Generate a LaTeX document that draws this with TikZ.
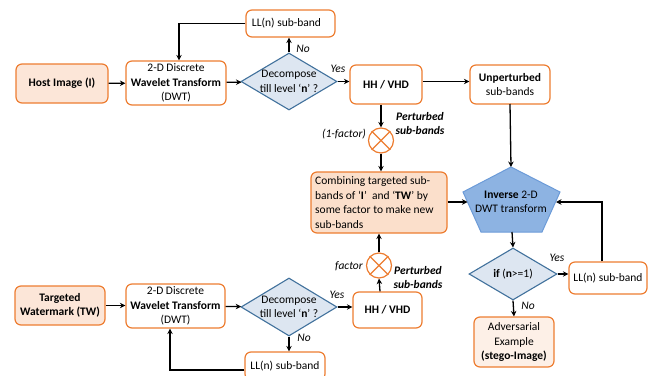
\documentclass[tikz,border=0pt]{standalone}
\usepackage{fontspec}
\setmainfont{Carlito}
\usetikzlibrary{shapes.geometric,arrows.meta}

\definecolor{edgeorange}{HTML}{ED7D31}
\definecolor{peach}{HTML}{FCE6D8}
\definecolor{peachlight}{HTML}{FDF0E7}
\definecolor{peachdeep}{HTML}{FBDFCB}
\definecolor{decfill}{HTML}{DDE6F1}
\definecolor{decedge}{HTML}{41719C}
\definecolor{invfill}{HTML}{8DB3E2}
\definecolor{invedge}{HTML}{6C9BD8}

\begin{document}
\begin{tikzpicture}[x=1pt,y=-1pt,
  every node/.style={font=\fontsize{11.5}{14.5}\selectfont, inner sep=0pt, align=center},
  obox/.style={draw=edgeorange, line width=1.2pt, rounded corners=6pt, fill=white},
  decision/.style={shape=diamond, draw=decedge, line width=1.1pt, fill=decfill},
  mult/.style={circle, draw=edgeorange, line width=1.2pt, fill=white, minimum size=25pt},
  flow/.style={line width=1.3pt, -{Stealth[length=5.5pt,width=5.5pt]}},
  lbl/.style={font=\fontsize{11.5}{14.5}\selectfont\itshape},
  blbl/.style={font=\fontsize{11.5}{14.5}\selectfont\bfseries\itshape, align=center}
]
\useasboundingbox (0,0) rectangle (664,375);

% ---------- host image branch ----------
\node[obox, fill=peach, minimum width=92pt, minimum height=39pt] (host) at (62,83.5) {\textbf{Host Image (I)}};
\node[obox, minimum width=100pt, minimum height=44pt] (dwt1) at (176,83) {2-D Discrete\\\textbf{Wavelet Transform}\\(DWT)};
\node[decision, minimum width=96pt, minimum height=57pt] (dia1) at (289,81.5) {};
\node (dia1t) at (289,81.5) {Decompose\\till level `\textbf{n}' ?};
\node[obox, minimum width=89pt, minimum height=27pt] (ll1) at (290.5,23.5) {\hspace*{-8pt}LL(n) sub-band};
\node[obox, minimum width=72pt, minimum height=39pt] (hh1) at (386,84.5) {\textbf{HH / VHD}};
\node[obox, minimum width=80pt, minimum height=39pt] (un) at (510,84.5) {\textbf{Unperturbed}\\sub-bands};
\node[mult] (c1) at (381,140.5) {};
\draw[edgeorange, line width=1.2pt] (c1.north east) -- (c1.south west) (c1.north west) -- (c1.south east);

% ---------- combination ----------
\node[obox, fill=peachdeep, minimum width=136pt, minimum height=61pt] (comb) at (379,202.5) {};
\node[anchor=west, align=left] (combt) at (315,202.5) {Combining targeted sub-\\bands of `\textbf{I}'~ and `\textbf{TW}' by\\some factor to make new\\sub-bands};

% ---------- inverse transform (pentagon) ----------
\coordinate (pa) at (511,167);
\coordinate (pl) at (463,192);
\coordinate (pbl) at (481,232);
\coordinate (pbr) at (542,232);
\coordinate (pre) at (560,192);
\coordinate (pb) at (512,232);
\coordinate (pin) at (467.5,202);
\coordinate (pout) at (556,202);
\draw[draw=invedge, line width=1pt, fill=invfill] (pa) -- (pre) -- (pbr) -- (pbl) -- (pl) -- cycle;
\node (inv) at (511,202) {\textbf{Inverse} 2-D\\DWT transform};

\node[decision, minimum width=88pt, minimum height=52pt] (cond) at (513,274) {};
\node (condt) at (513,274) {\textbf{if} (\textbf{n}>=1)};
\node[obox, minimum width=78pt, minimum height=32pt] (llr) at (608,278) {LL(n) sub-band};
\node[obox, fill=peachlight, minimum width=80pt, minimum height=50pt] (adv) at (514,342) {Adversarial\\Example\\\textbf{(stego-Image)}};

% ---------- watermark branch ----------
\node[obox, fill=peach, minimum width=90pt, minimum height=39pt] (tw) at (60,305.5) {\textbf{Targeted}\\\textbf{Watermark (TW)}};
\node[obox, minimum width=99pt, minimum height=44pt] (dwt2) at (175.5,306) {2-D Discrete\\\textbf{Wavelet Transform}\\(DWT)};
\node[decision, minimum width=96pt, minimum height=58pt] (dia2) at (289,307) {};
\node (dia2t) at (289,307) {Decompose\\till level `\textbf{n}' ?};
\node[obox, minimum width=80pt, minimum height=28pt] (ll2) at (285,366) {LL(n) sub-band};
\node[obox, minimum width=69pt, minimum height=36pt] (hh2) at (387.5,310) {\textbf{HH / VHD}};
\node[mult] (c2) at (379,265.5) {};
\draw[edgeorange, line width=1.2pt] (c2.north east) -- (c2.south west) (c2.north west) -- (c2.south east);

% ---------- connectors ----------
\draw[flow] (host) -- (dwt1);
\draw[flow] (dwt1) -- (dia1);
\draw[flow] (dia1.north) -- (dia1.north |- ll1.south);
\draw[flow] (ll1.west) -| ([xshift=3pt]dwt1.north);
\draw[flow] (dia1.east) -- (dia1.east -| hh1.west);
\draw[flow] (hh1.east |- dia1.east) -- (un.west |- dia1.east);
\draw[flow] (c1.north |- hh1.south) -- (c1.north);
\draw[flow] (c1.south) -- (c1.south |- comb.north);
\draw[flow] (un.south |- pa) ++(0,-63) -- (pa);
\draw[flow] (comb.east |- pin) -- (pin);
\draw[flow] (pb) -- (cond.north);
\draw[flow] (cond.east) -- (cond.east -| llr.west);
\draw[flow] ([xshift=-6pt]llr.north) |- (pout);
\draw[flow] (cond.south) -- (adv.north);

\draw[flow] (tw) -- (dwt2.west |- tw.east);
\draw[flow] (dwt2) -- (dia2);
\draw[flow] (dia2.south) -- (dia2.south |- ll2.north);
\draw[flow] ([yshift=-4pt]ll2.west) -| ([xshift=-5.5pt]dwt2.south);
\draw[flow] (dia2.east) -- (dia2.east -| hh2.west);
\draw[flow] ([xshift=-7.5pt]hh2.north) -- (c2.south);
\draw[flow] (c2.north) -- (c2.north |- comb.south);

% ---------- labels ----------
\node[lbl] (no1) at (303,49) {No};
\node[lbl] (yes1) at (338,69) {Yes};
\node[lbl] (no2) at (304,338) {No};
\node[lbl] (yes2) at (337,295) {Yes};
\node[lbl] (yes3) at (557,258) {Yes};
\node[lbl] (no3) at (528,306) {No};
\node[lbl] (onef) at (344,134) {(1-factor)};
\node[lbl] (fac) at (349,266) {factor};
\node[blbl] (pert1) at (420,123.5) {Perturbed\\sub-bands};
\node[blbl] (pert2) at (418,277.5) {Perturbed\\sub-bands};
\end{tikzpicture}
\end{document}
